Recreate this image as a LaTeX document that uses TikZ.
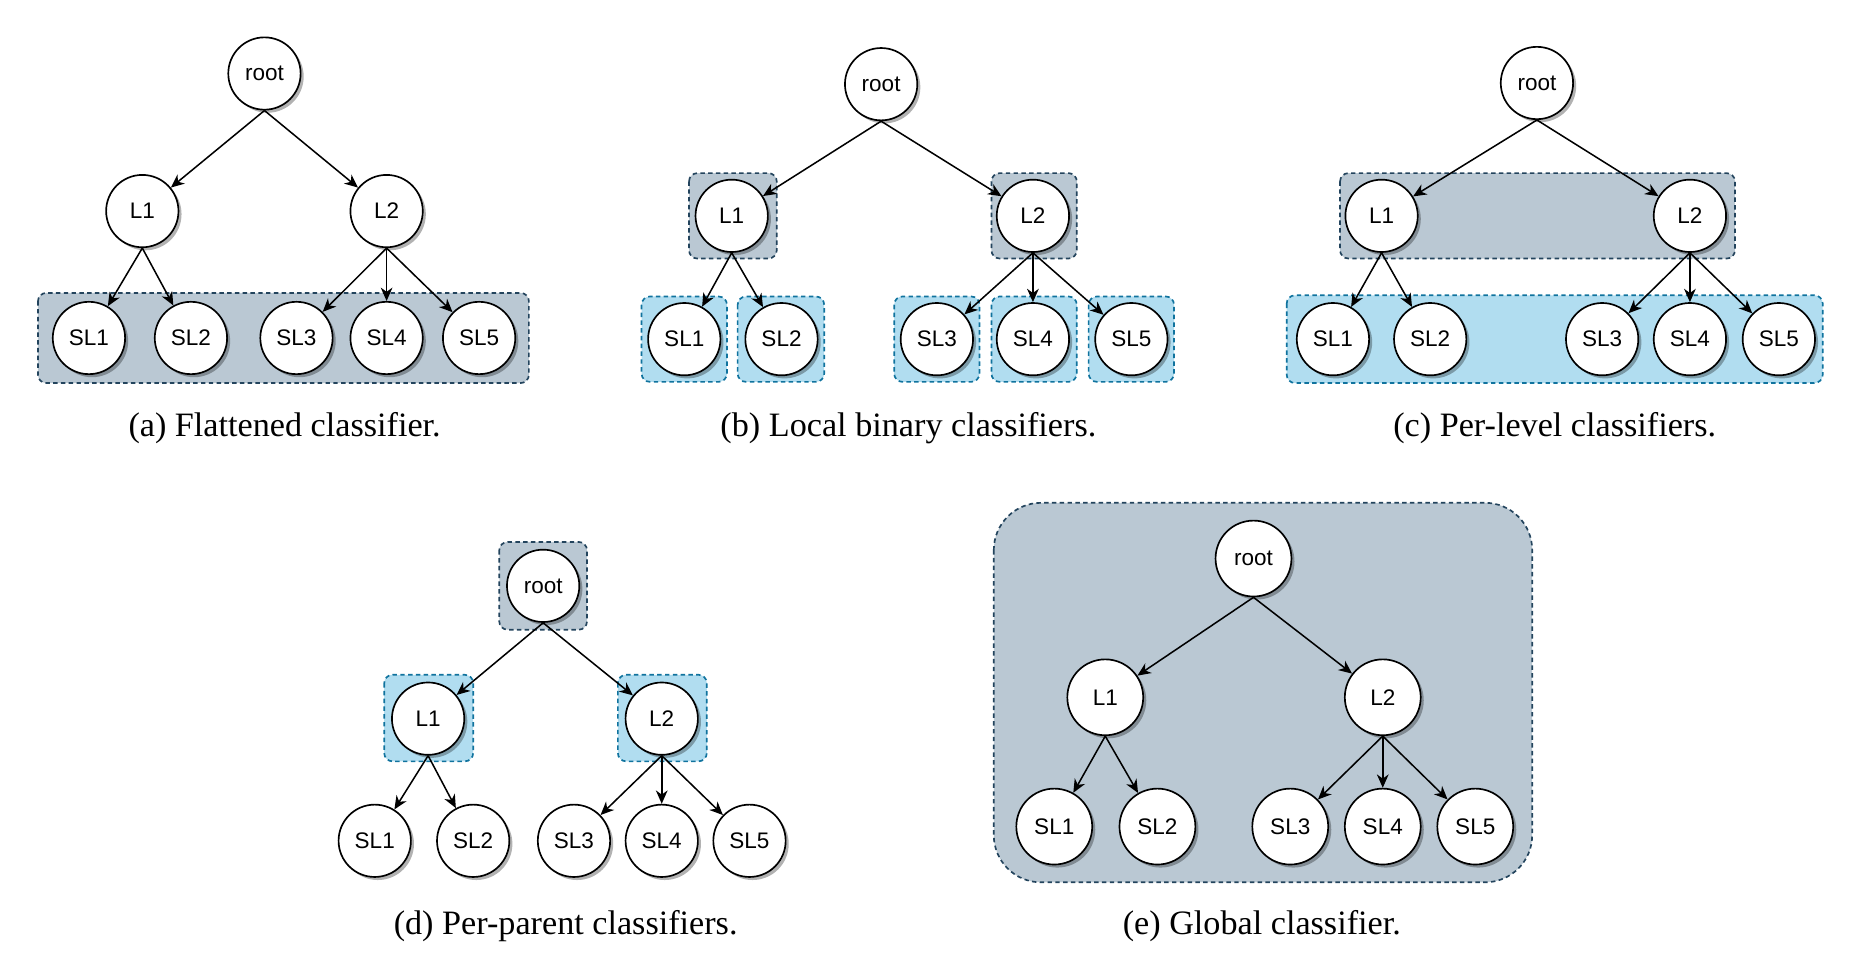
\documentclass[tikz,border=0pt]{standalone}
\usepackage{fontspec}
\setmainfont{Liberation Serif}
\newfontfamily\nodefont{Liberation Sans}
\usepackage{xcolor}
\usepackage{tikz}
\usetikzlibrary{arrows.meta,shadows,positioning}

\definecolor{darkfill}{HTML}{BAC8D3}
\definecolor{darkline}{HTML}{23445D}
\definecolor{lightfill}{HTML}{B1DDF0}
\definecolor{lightline}{HTML}{10739E}

\tikzset{
  cls/.style={circle, draw=black, line width=0.6pt, fill=white, minimum size=61*0.015cm, inner sep=0pt,
    font=\nodefont\fontsize{8.1}{9}\selectfont,
    drop shadow={shadow xshift=1.1pt, shadow yshift=-1.1pt, opacity=0.3, fill=black}},
  bigcls/.style={cls, minimum size=64*0.015cm},
  edge/.style={line width=0.55pt, -{Stealth[length=4.8pt,width=4.2pt,inset=1.5pt]}},
  darkbox/.style={fill=darkfill, draw=darkline, line width=0.6pt, dash pattern=on 1.6pt off 1.2pt, rounded corners=3pt},
  lightbox/.style={fill=lightfill, draw=lightline, line width=0.6pt, dash pattern=on 1.6pt off 1.2pt, rounded corners=3pt},
  caption/.style={font=\fontsize{12.3}{14}\selectfont}
}

\begin{document}
\begin{tikzpicture}[x=0.015cm, y=-0.015cm]
\useasboundingbox (0,0) rectangle (1560,815);

% boxes behind the trees
\draw[darkbox] (32,247) rectangle (446,323);
\draw[darkbox] (581,146) rectangle (655,218);
\draw[darkbox] (836,146) rectangle (908,218);
\foreach \l/\r in {541/613, 622/695, 754/826, 836/908, 918/990}
  \draw[lightbox] (\l,250) rectangle (\r,322);
\draw[darkbox] (1130,146) rectangle (1463,218);
\draw[lightbox] (1085,249) rectangle (1537,323);
\draw[darkbox] (421,457) rectangle (495,531);
\draw[lightbox] (324,569) rectangle (399,642);
\draw[lightbox] (521,569) rectangle (596,642);
\draw[darkbox, rounded corners=17pt] (838,424) rectangle (1292,744);

% (a)
\node[cls] (a-root) at (223,62) {root};
\node[cls] (a-L1) at (120,178) {L1};
\node[cls] (a-L2) at (326,178) {L2};
\foreach \x [count=\i] in {75,161,250,326,404}
  \node[cls] (a-SL\i) at (\x,285) {SL\i};
\node[caption] (a-cap) at (240,361) {(a) Flattened classifier.};

% (b)
\node[cls] (b-root) at (743,71) {root};
\node[cls] (b-L1) at (617,182) {L1};
\node[cls] (b-L2) at (871,182) {L2};
\foreach \x [count=\i] in {577,659,790,871,954}
  \node[cls] (b-SL\i) at (\x,286) {SL\i};
\node[caption] (b-cap) at (766,361) {(b) Local binary classifiers.};

% (c)
\node[cls] (c-root) at (1296,70) {root};
\node[cls] (c-L1) at (1165,182) {L1};
\node[cls] (c-L2) at (1425,182) {L2};
\foreach \x [count=\i] in {1124,1206,1351,1425,1500}
  \node[cls] (c-SL\i) at (\x,286) {SL\i};
\node[caption] (c-cap) at (1311,361) {(c) Per-level classifiers.};

% (d)
\node[cls] (d-root) at (458,494) {root};
\node[cls] (d-L1) at (361,606) {L1};
\node[cls] (d-L2) at (558,606) {L2};
\foreach \x [count=\i] in {316,399,484,558,632}
  \node[cls] (d-SL\i) at (\x,709) {SL\i};
\node[caption] (d-cap) at (477,781) {(d) Per-parent classifiers.};

% (e)
\node[bigcls] (e-root) at (1057,471) {root};
\node[bigcls] (e-L1) at (932,588) {L1};
\node[bigcls] (e-L2) at (1166,588) {L2};
\foreach \x [count=\i] in {889,976,1088,1166,1244}
  \node[bigcls] (e-SL\i) at (\x,697) {SL\i};
\node[caption] (e-cap) at (1064,781) {(e) Global classifier.};

% edges
\foreach \t in {a,b,c,d,e}
  \foreach \p/\c in {root/L1, root/L2, L1/SL1, L1/SL2, L2/SL3, L2/SL4, L2/SL5}
    \draw[edge] (\t-\p.south) -- (\t-\c);
\end{tikzpicture}
\end{document}
